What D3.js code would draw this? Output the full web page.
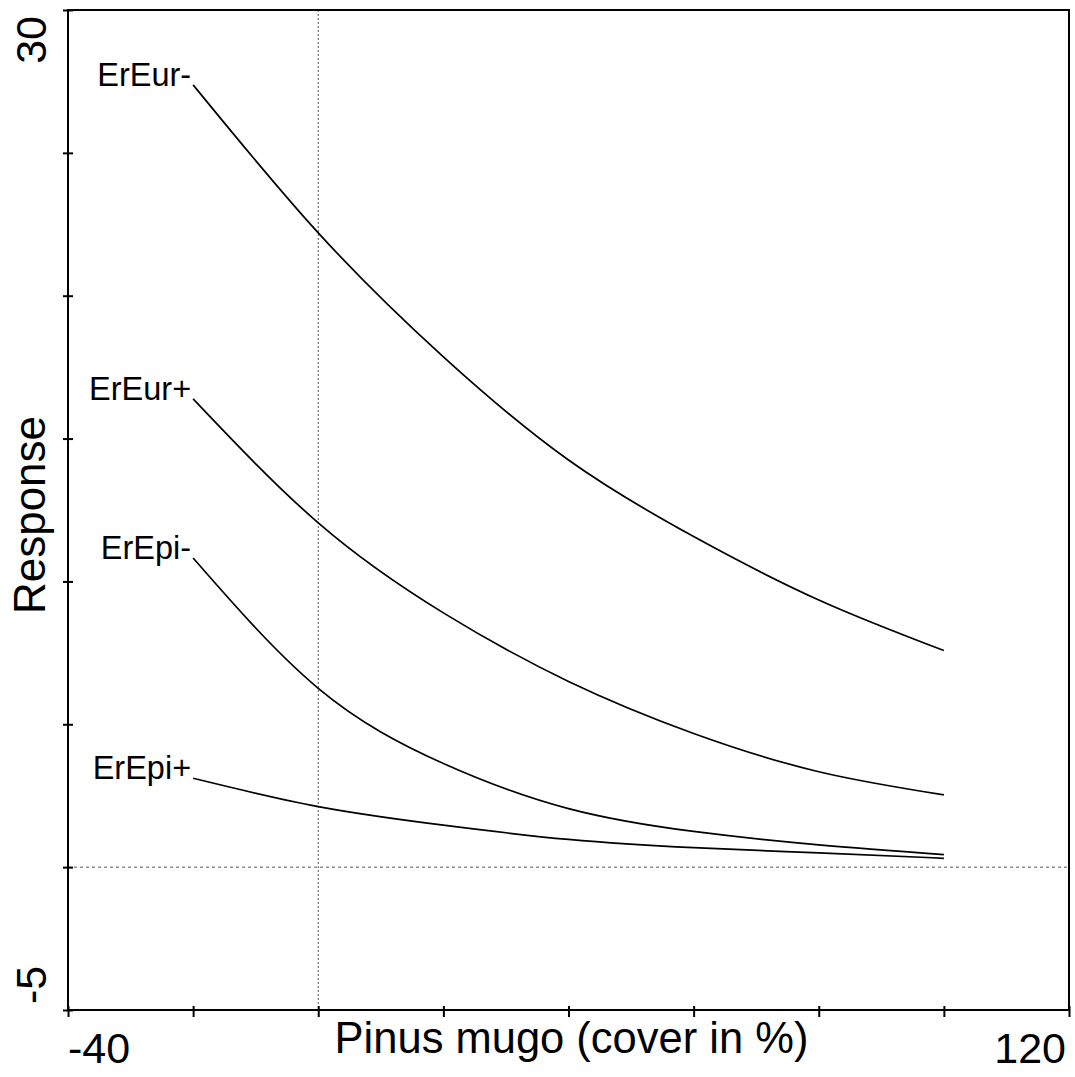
<!DOCTYPE html>
<html>
<head>
<meta charset="utf-8">
<script src="https://cdn.jsdelivr.net/npm/d3@7"></script>
<style>
  html, body { margin: 0; padding: 0; background: #fff; }
  svg { display: block; font-family: "Liberation Sans", Arial, sans-serif; }
</style>
</head>
<body>
<svg id="chart" width="1075" height="1077"></svg>
<script>
// ---- data ----
const xValues = [-20, 0, 20, 40, 60, 80, 100];
const seriesNames = ["ErEur-", "ErEur+", "ErEpi-", "ErEpi+"];
const erEurMinus = [27.38, 22.2, 17.86, 14.25, 11.57, 9.35, 7.58];
const erEurPlus  = [16.39, 12.05, 8.9, 6.5, 4.68, 3.34, 2.53];
const erEpiMinus = [10.82, 6.26, 3.63, 2.05, 1.25, 0.78, 0.44];
const erEpiPlus  = [3.11, 2.12, 1.47, 0.97, 0.68, 0.5, 0.31];
const xTicks = [-40, -20, 0, 20, 40, 60, 80, 100, 120];
const yTicks = [-5, 0, 5, 10, 15, 20, 25, 30];
const xTickLabels = ["-40", "120"];
const yTickLabels = ["-5", "30"];
const xTitle = "Pinus mugo (cover in %)";
const yTitle = "Response";

const series = [erEurMinus, erEurPlus, erEpiMinus, erEpiPlus].map((vals, i) => ({
  name: seriesNames[i],
  points: vals.map((v, j) => ({ x: xValues[j], y: v }))
}));

// ---- layout ----
const L = 68, R = 1069, T = 10, B = 1010;
const x = d3.scaleLinear().domain([-40, 120]).range([L, R]);
const y = d3.scaleLinear().domain([-5, 30]).range([B, T]);

const svg = d3.select("#chart");

// reference dotted lines at 0
svg.append("line")
  .attr("x1", x(0)).attr("x2", x(0)).attr("y1", T).attr("y2", B)
  .attr("stroke", "#555").attr("stroke-width", 1).attr("stroke-dasharray", "2,2");
svg.append("line")
  .attr("x1", L).attr("x2", R).attr("y1", y(0)).attr("y2", y(0))
  .attr("stroke", "#555").attr("stroke-width", 1).attr("stroke-dasharray", "3,3");

// frame
svg.append("rect")
  .attr("x", L).attr("y", T).attr("width", R - L).attr("height", B - T)
  .attr("fill", "none").attr("stroke", "#000").attr("stroke-width", 2);

// x axis ticks
const xAxis = d3.axisBottom(x).tickValues(xTicks).tickSize(7).tickFormat("");
const gx = svg.append("g").attr("transform", `translate(0,${B})`).call(xAxis);
gx.select(".domain").remove();
gx.selectAll(".tick line").attr("y1", -4).attr("stroke", "#000").attr("stroke-width", 2);

// y axis ticks
const yAxis = d3.axisLeft(y).tickValues(yTicks).tickSize(5).tickFormat("");
const gy = svg.append("g").attr("transform", `translate(${L},0)`).call(yAxis);
gy.select(".domain").remove();
gy.selectAll(".tick line").attr("x1", 5).attr("stroke", "#000").attr("stroke-width", 2);

// tick labels
svg.append("text").attr("x", x(-40)).attr("y", 1063)
  .attr("text-anchor", "start").attr("font-size", 43).text(xTickLabels[0]);
svg.append("text").attr("x", x(120) - 3).attr("y", 1063)
  .attr("text-anchor", "end").attr("font-size", 43).text(xTickLabels[1]);
svg.append("text")
  .attr("transform", `translate(46,${y(-5) - 6}) rotate(-90)`)
  .attr("text-anchor", "start").attr("font-size", 43).text(yTickLabels[0]);
svg.append("text")
  .attr("transform", `translate(46,${y(30) + 6}) rotate(-90)`)
  .attr("text-anchor", "end").attr("font-size", 43).text(yTickLabels[1]);

// axis titles
svg.append("text").attr("x", (L + R) / 2 + 3).attr("y", 1053)
  .attr("text-anchor", "middle").attr("font-size", 43.5).text(xTitle);
svg.append("text")
  .attr("transform", `translate(45,${(T + B) / 2 + 5}) rotate(-90)`)
  .attr("text-anchor", "middle").attr("font-size", 44).text(yTitle);

// curves
const line = d3.line().x(d => x(d.x)).y(d => y(d.y)).curve(d3.curveNatural);
svg.append("g").selectAll("path").data(series).join("path")
  .attr("d", d => line(d.points))
  .attr("fill", "none").attr("stroke", "#000").attr("stroke-width", 1.7);

// curve labels
svg.append("g").selectAll("text").data(series).join("text")
  .attr("x", d => x(d.points[0].x) - 2)
  .attr("y", d => y(d.points[0].y) + 1)
  .attr("text-anchor", "end").attr("font-size", 32.5)
  .text(d => d.name);
</script>
</body>
</html>
